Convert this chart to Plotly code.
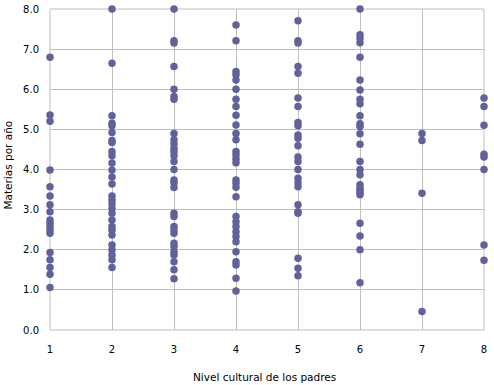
import plotly.graph_objects as go

nivel_1 = [6.80, 5.36, 5.20, 3.99, 3.57, 3.34, 3.12, 2.95, 2.74, 2.66, 2.58, 2.49, 2.41, 1.93, 1.75, 1.56, 1.39, 1.06]
nivel_2 = [8.0, 6.65, 5.34, 5.15, 5.09, 4.92, 4.72, 4.67, 4.45, 4.34, 4.16, 3.99, 3.81, 3.64, 3.34,
           3.24, 3.14, 3.03, 2.91, 2.74, 2.58, 2.49, 2.37, 2.12, 2.0, 1.87, 1.75, 1.56]
nivel_3 = [8.0, 7.21, 7.15, 6.57, 6.0, 5.82, 5.75, 4.9, 4.74, 4.64, 4.53, 4.45, 4.34, 4.2, 4.0,
           3.74, 3.67, 3.55, 2.91, 2.83, 2.58, 2.49, 2.41, 2.16, 2.08, 1.95, 1.87, 1.70, 1.5, 1.28]
nivel_4 = [7.6, 7.21, 6.44, 6.36, 6.23, 6.0, 5.75, 5.57, 5.35, 5.11, 4.9, 4.74, 4.45, 4.36, 4.26, 4.17,
           3.74, 3.66, 3.56, 3.32, 2.83, 2.70, 2.58, 2.45, 2.33, 2.20, 1.95, 1.70, 1.62, 1.29, 0.97]
nivel_5 = [7.71, 7.21, 7.15, 6.57, 6.4, 5.78, 5.57, 5.17, 5.09, 4.86, 4.78, 4.59, 4.31, 4.2, 4.0,
           3.78, 3.67, 3.57, 3.12, 2.95, 2.91, 1.79, 1.54, 1.35]
nivel_6 = [8.0, 7.36, 7.27, 7.16, 6.80, 6.23, 5.98, 5.75, 5.64, 5.34, 5.14, 5.07, 4.89, 4.63, 4.2, 4.0,
           3.87, 3.62, 3.53, 3.42, 3.49, 3.37, 2.66, 2.34, 2.0, 1.18]
nivel_7 = [4.9, 4.72, 3.41, 0.46]
nivel_8 = [5.78, 5.57, 5.10, 4.38, 4.31, 4.0, 2.12, 1.74]

groups = [nivel_1, nivel_2, nivel_3, nivel_4, nivel_5, nivel_6, nivel_7, nivel_8]
xs, ys = [], []
for i, g in enumerate(groups, start=1):
    xs += [i] * len(g)
    ys += g

fig = go.Figure(go.Scatter(
    x=xs, y=ys, mode="markers",
    marker=dict(color="#62629A", size=7.5, line=dict(width=0)),
    cliponaxis=False, showlegend=False,
))

grid = "#BFBFBF"
fig.update_layout(
    width=494, height=385,
    margin=dict(l=50, r=10, t=9, b=55),
    paper_bgcolor="white", plot_bgcolor="white",
    font=dict(family="DejaVu Sans", size=10, color="#000000"),
    xaxis=dict(range=[1, 8], dtick=1, tick0=1, showgrid=True, gridcolor=grid, gridwidth=1,
               zeroline=False, showline=False, automargin=False,
               ticks="outside", ticklen=10, tickcolor="rgba(0,0,0,0)"),
    yaxis=dict(range=[0, 8], dtick=1, tickformat=".1f", showgrid=True, gridcolor=grid, gridwidth=1,
               zeroline=False, showline=False, automargin=False,
               ticks="outside", ticklen=8, tickcolor="rgba(0,0,0,0)"),
    annotations=[
        dict(text="Nivel cultural de los padres", xref="paper", yref="paper", x=0.495, y=-0.146,
             xanchor="center", yanchor="middle", showarrow=False,
             font=dict(family="DejaVu Sans", size=10.5)),
        dict(text="Materias por año", xref="paper", yref="paper", x=-0.097, y=0.515,
             xanchor="center", yanchor="middle", showarrow=False, textangle=-90,
             font=dict(family="DejaVu Sans", size=10.5)),
    ],
)
for x0, x1, y0, y1 in [(0, 0, 0, 1), (1, 1, 0, 1), (0, 1, 1, 1), (0, 1, 0, 0)]:
    fig.add_shape(type="line", xref="paper", yref="paper", x0=x0, x1=x1, y0=y0, y1=y1,
                  line=dict(color=grid, width=1), layer="below")

fig.write_html("out.html", config={"displayModeBar": False},
               post_script="document.body.style.margin='0';")
